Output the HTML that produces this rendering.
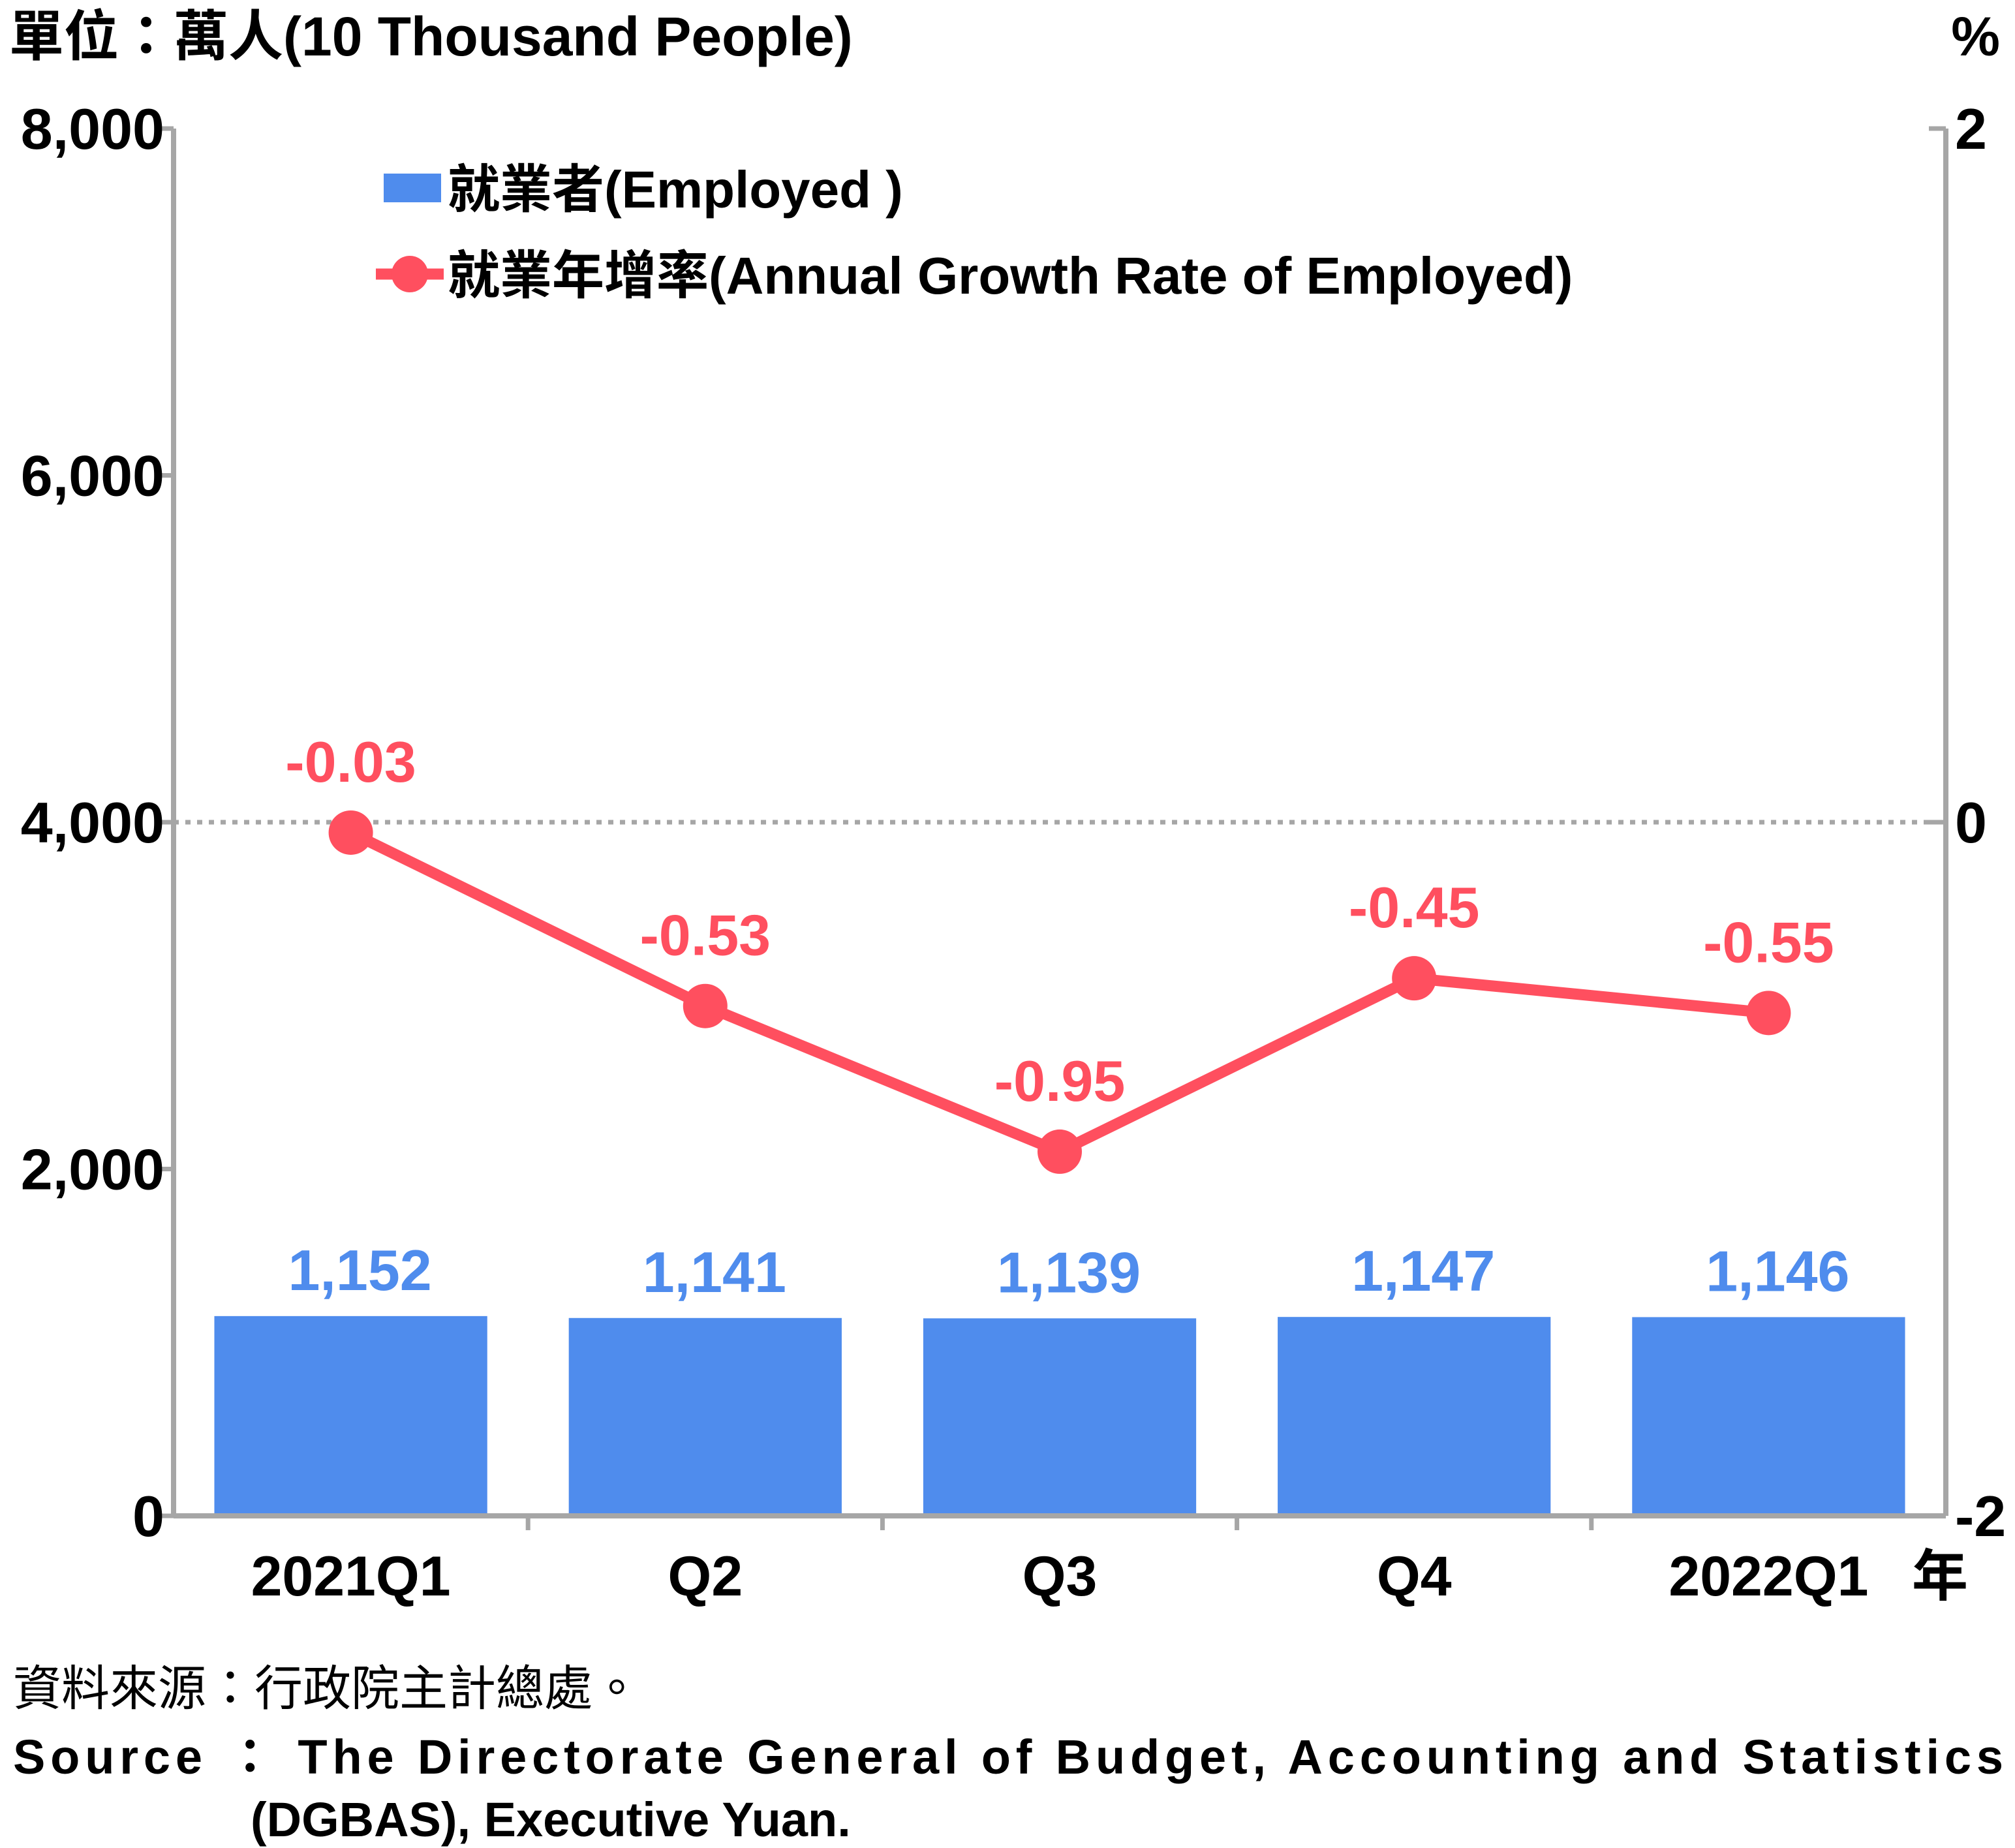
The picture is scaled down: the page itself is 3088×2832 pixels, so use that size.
<!DOCTYPE html>
<html><head><meta charset="utf-8"><style>
html,body{margin:0;padding:0;background:#fff}
svg{display:block}
text{font-family:"Liberation Sans","Noto Sans CJK TC",sans-serif;font-weight:bold}
</style></head><body>
<svg id="chart" width="3088" height="2832" viewBox="0 0 3088 2832">
<text x="14" y="85" font-size="84">單位：萬人(10 Thousand People)</text>
<text x="3065" y="85" font-size="84" text-anchor="end">%</text>
<g id="axes"></g>
<g id="bars"></g>
<g id="line"></g>
<g>
<rect x="588" y="266" width="88" height="44" fill="#4f8ced"/>
<text x="686" y="318" font-size="80">就業者(Employed )</text>
<line x1="576" y1="420" x2="680" y2="420" stroke="#ff4f5f" stroke-width="17"/>
<circle cx="628" cy="420" r="28" fill="#ff4f5f"/>
<text x="686" y="450" font-size="80">就業年增率(Annual Growth Rate of Employed)</text>
</g>
<text x="2930" y="2445" font-size="86">年</text>
<text x="20" y="2613" font-size="74" font-weight="normal" style="font-weight:normal">資料來源：行政院主計總處。</text>
<text x="20" y="2718" font-size="74" textLength="3050" lengthAdjust="spacing">Source ： The Directorate General of Budget, Accounting and Statistics</text>
<text x="384" y="2814" font-size="74">(DGBAS), Executive Yuan.</text>
</svg>
<script>
const categories=["2021Q1","Q2","Q3","Q4","2022Q1"];
const employed=[1152,1141,1139,1147,1146];
const growth=[-0.03,-0.53,-0.95,-0.45,-0.55];
const leftTicks=[0,2000,4000,6000,8000];
const rightTicks=[-2,0,2];
const NS="http://www.w3.org/2000/svg";
const L=266,R=2982,T=197,B=2323;
const yL=v=>B-(v/8000)*(B-T);
const yR=v=>B-((v+2)/4)*(B-T);
const bw=(R-L)/categories.length;
const xC=i=>L+bw*(i+0.5);
function mk(tag,attrs,parent,txt){const e=document.createElementNS(NS,tag);for(const k in attrs)e.setAttribute(k,attrs[k]);if(txt!==undefined)e.textContent=txt;parent.appendChild(e);return e;}
const ax=document.getElementById('axes'),bg=document.getElementById('bars'),lg=document.getElementById('line');
const GR="#a6a6a6";
let e;
e=mk('line',{x1:L,y1:yR(0),x2:R,y2:yR(0),stroke:GR,"stroke-width":7,"stroke-dasharray":"8 10"},ax);


e=mk('line',{x1:L,y1:T,x2:L,y2:B,stroke:GR,"stroke-width":8},ax);


e=mk('line',{x1:R,y1:T,x2:R,y2:B,stroke:GR,"stroke-width":8},ax);


e=mk('line',{x1:L,y1:B,x2:R,y2:B,stroke:GR,"stroke-width":8},ax);


leftTicks.forEach(v=>{
 e=mk('line',{x1:L-26,y1:yL(v),x2:L,y2:yL(v),stroke:GR,"stroke-width":7},ax);
 
 
 e=mk('text',{x:252,y:yL(v)+31,"font-size":88,"text-anchor":"end"},ax,v.toLocaleString('en-US'));
 
 
});
rightTicks.forEach(v=>{
 e=mk('line',{x1:R-26,y1:yR(v),x2:R,y2:yR(v),stroke:GR,"stroke-width":7},ax);
 
 
 e=mk('text',{x:2996,y:yR(v)+31,"font-size":88},ax,String(v));
 
 
});
for(let i=1;i<categories.length;i++){
 e=mk('line',{x1:L+bw*i,y1:B,x2:L+bw*i,y2:B+22,stroke:GR,"stroke-width":7},ax);
 
 
}
categories.forEach((c,i)=>{
 e=mk('text',{x:xC(i),y:2445,"font-size":86,"text-anchor":"middle"},ax,c);
 
 
});
const barW=bw*0.77;
employed.forEach((v,i)=>{
 e=mk('rect',{x:xC(i)-barW/2,y:yL(v),width:barW,height:B-4-yL(v),fill:"#4f8ced"},bg);
 
 
 e=mk('text',{x:xC(i)+14,y:yL(v)-40,"font-size":88,"text-anchor":"middle",fill:"#4f8ced"},bg,v.toLocaleString('en-US'));
 
 
});
const pts=growth.map((v,i)=>xC(i)+','+yR(v)).join(' ');
e=mk('polyline',{points:pts,fill:"none",stroke:"#ff4f5f","stroke-width":17,"stroke-linejoin":"round"},lg);


growth.forEach((v,i)=>{
 e=mk('circle',{cx:xC(i),cy:yR(v),r:34,fill:"#ff4f5f"},lg);
 
 
 e=mk('text',{x:xC(i),y:yR(v)-78,"font-size":88,"text-anchor":"middle",fill:"#ff4f5f"},lg,v.toFixed(2));
 
 
});
</script>
</body></html>
